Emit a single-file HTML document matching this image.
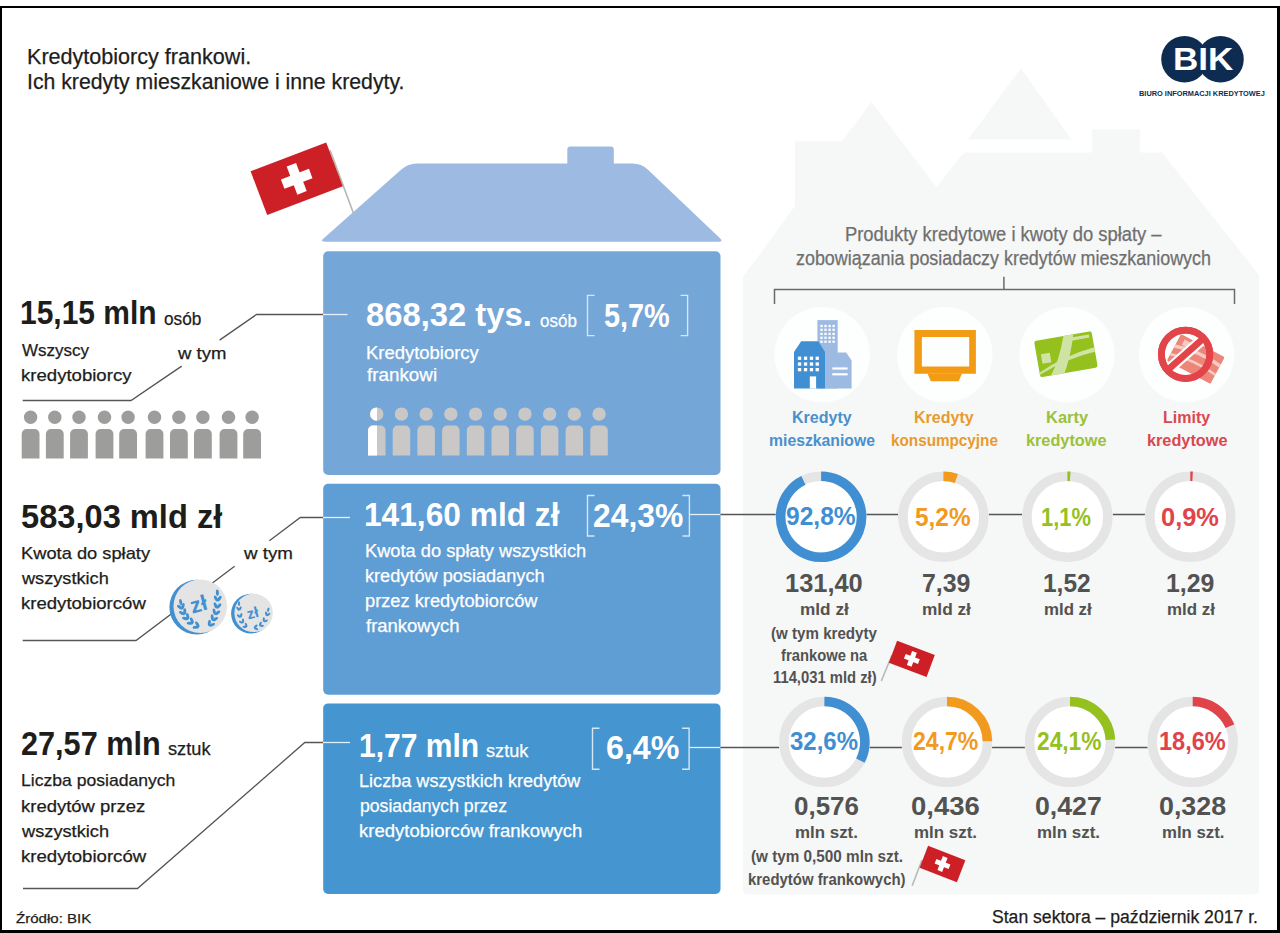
<!DOCTYPE html>
<html><head><meta charset="utf-8"><style>
html,body{margin:0;padding:0;background:#fff;}
body{width:1280px;height:933px;position:relative;overflow:hidden;font-family:"Liberation Sans",sans-serif;}
.t{position:absolute;white-space:nowrap;transform-origin:0 0;}
#frame{position:absolute;left:0;top:6px;width:1280px;height:927px;box-sizing:border-box;border-top:2px solid #000;border-left:2.3px solid #000;border-right:3px solid #000;border-bottom:3px solid #000;}
svg{position:absolute;left:0;top:0;}
</style></head><body>
<svg width="1280" height="933" viewBox="0 0 1280 933">
<path fill="#f6f7f7" d="M743,889.5 L743,277 L795,206 L795,141.3 L842,141.3 L871.5,102 L936.5,187 L964,152.6 L1092,152.6 L1092,129.5 L1140,129.5 L1140,152.6 L1162,152.6 L1259,275 L1259,889.5 Q1259,894.5 1254,894.5 L748,894.5 Q743,894.5 743,889.5 Z"/>
<polygon fill="#f6f7f7" points="968,139.4 1020.8,68.3 1071.6,139.4"/>
<path fill="#9dbbe2" d="M323.5,238.4 L401.3,169.5 Q408,163.5 417,163.5 L567.3,163.5 L567.3,149.6 Q567.3,146.6 570.3,146.6 L610.8,146.6 Q613.8,146.6 613.8,149.6 L613.8,163.5 L632.5,163.5 Q641.5,163.5 648,169.7 L720,238.25 Q723.6,241.7 718.6,241.7 L324.8,241.7 Q319.8,241.7 323.5,238.4 Z"/>
<rect x="323.2" y="251.2" width="397.3" height="223.8" rx="5" fill="#74a6d8"/>
<rect x="323.2" y="483.8" width="397.3" height="210.9" rx="5" fill="#5f9dd5"/>
<rect x="323.2" y="703.4" width="397.3" height="190.6" rx="5" fill="#4595d0"/>
<polyline fill="none" stroke="#555555" stroke-width="1.3" points="22.7,400.5 131,400.5 181.7,366.1"/>
<polyline fill="none" stroke="#555555" stroke-width="1.3" points="219.6,340.1 256.5,314.5 323.2,314.5"/>
<polyline fill="none" stroke="#555555" stroke-width="1.3" points="22.7,640.5 136,640.5 234.6,566.2"/>
<polyline fill="none" stroke="#555555" stroke-width="1.3" points="269.4,540.7 300.3,517.5 323.2,517.5"/>
<polyline fill="none" stroke="#555555" stroke-width="1.3" points="23,888.5 137.5,888.5 304.8,742.5 323.2,742.5"/>
<line x1="323" y1="314.5" x2="347.5" y2="314.5" stroke="#e6f0f9" stroke-width="1.3"/>
<line x1="323" y1="517.5" x2="350" y2="517.5" stroke="#e6f0f9" stroke-width="1.3"/>
<line x1="323" y1="742.5" x2="350" y2="742.5" stroke="#e6f0f9" stroke-width="1.3"/>
<line x1="689.4" y1="514.5" x2="720.5" y2="514.5" stroke="#e6f0f9" stroke-width="1.3"/>
<line x1="720.5" y1="514.5" x2="1190" y2="514.5" stroke="#555555" stroke-width="1.3"/>
<line x1="689.4" y1="747.5" x2="720.5" y2="747.5" stroke="#e6f0f9" stroke-width="1.3"/>
<line x1="720.5" y1="747.5" x2="1193" y2="747.5" stroke="#555555" stroke-width="1.3"/>
<polyline fill="none" stroke="#d6e6f5" stroke-width="1.4" points="594.5,295.4 587.5,295.4 587.5,335.6 594.5,335.6"/>
<polyline fill="none" stroke="#d6e6f5" stroke-width="1.4" points="680.6,295.4 687.6,295.4 687.6,335.6 680.6,335.6"/>
<polyline fill="none" stroke="#d6e6f5" stroke-width="1.4" points="594.5,495.5 587.5,495.5 587.5,536 594.5,536"/>
<polyline fill="none" stroke="#d6e6f5" stroke-width="1.4" points="682.4,495.5 689.4,495.5 689.4,536 682.4,536"/>
<polyline fill="none" stroke="#d6e6f5" stroke-width="1.4" points="599.5,728.2 592.5,728.2 592.5,769.2 599.5,769.2"/>
<polyline fill="none" stroke="#d6e6f5" stroke-width="1.4" points="682.1,728.2 689.1,728.2 689.1,769.2 682.1,769.2"/>
<polyline fill="none" stroke="#6a6a6a" stroke-width="1.5" points="774.5,304 774.5,289.5 1234.5,289.5 1234.5,304"/>
<line x1="1003.9" y1="276.8" x2="1003.9" y2="289.5" stroke="#6a6a6a" stroke-width="1.5"/>
<circle cx="30.6" cy="417.3" r="6.7" fill="#9d9d9c"/>
<path d="M21.7,458.6 V434 a5,5 0 0 1 5,-5 h7.8 a5,5 0 0 1 5,5 V458.6 z" fill="#9d9d9c"/>
<circle cx="54.8" cy="417.3" r="6.7" fill="#9d9d9c"/>
<path d="M45.9,458.6 V434 a5,5 0 0 1 5,-5 h7.8 a5,5 0 0 1 5,5 V458.6 z" fill="#9d9d9c"/>
<circle cx="79.0" cy="417.3" r="6.7" fill="#9d9d9c"/>
<path d="M70.1,458.6 V434 a5,5 0 0 1 5,-5 h7.8 a5,5 0 0 1 5,5 V458.6 z" fill="#9d9d9c"/>
<circle cx="104.5" cy="417.3" r="6.7" fill="#9d9d9c"/>
<path d="M95.6,458.6 V434 a5,5 0 0 1 5,-5 h7.8 a5,5 0 0 1 5,5 V458.6 z" fill="#9d9d9c"/>
<circle cx="128.1" cy="417.3" r="6.7" fill="#9d9d9c"/>
<path d="M119.2,458.6 V434 a5,5 0 0 1 5,-5 h7.8 a5,5 0 0 1 5,5 V458.6 z" fill="#9d9d9c"/>
<circle cx="154.5" cy="417.3" r="6.7" fill="#9d9d9c"/>
<path d="M145.6,458.6 V434 a5,5 0 0 1 5,-5 h7.8 a5,5 0 0 1 5,5 V458.6 z" fill="#9d9d9c"/>
<circle cx="178.9" cy="417.3" r="6.7" fill="#9d9d9c"/>
<path d="M170,458.6 V434 a5,5 0 0 1 5,-5 h7.8 a5,5 0 0 1 5,5 V458.6 z" fill="#9d9d9c"/>
<circle cx="202.9" cy="417.3" r="6.7" fill="#9d9d9c"/>
<path d="M194,458.6 V434 a5,5 0 0 1 5,-5 h7.8 a5,5 0 0 1 5,5 V458.6 z" fill="#9d9d9c"/>
<circle cx="228.5" cy="417.3" r="6.7" fill="#9d9d9c"/>
<path d="M219.6,458.6 V434 a5,5 0 0 1 5,-5 h7.8 a5,5 0 0 1 5,5 V458.6 z" fill="#9d9d9c"/>
<circle cx="252.1" cy="417.3" r="6.7" fill="#9d9d9c"/>
<path d="M243.2,458.6 V434 a5,5 0 0 1 5,-5 h7.8 a5,5 0 0 1 5,5 V458.6 z" fill="#9d9d9c"/>
<circle cx="376.75" cy="414.1" r="6.7" fill="#c9c8c6"/>
<path d="M368.0,455.5 V430.5 a5,5 0 0 1 5,-5 h7.5 a5,5 0 0 1 5,5 V455.5 z" fill="#c9c8c6"/>
<circle cx="401.45" cy="414.1" r="6.7" fill="#c9c8c6"/>
<path d="M392.7,455.5 V430.5 a5,5 0 0 1 5,-5 h7.5 a5,5 0 0 1 5,5 V455.5 z" fill="#c9c8c6"/>
<circle cx="426.15" cy="414.1" r="6.7" fill="#c9c8c6"/>
<path d="M417.4,455.5 V430.5 a5,5 0 0 1 5,-5 h7.5 a5,5 0 0 1 5,5 V455.5 z" fill="#c9c8c6"/>
<circle cx="450.85" cy="414.1" r="6.7" fill="#c9c8c6"/>
<path d="M442.1,455.5 V430.5 a5,5 0 0 1 5,-5 h7.5 a5,5 0 0 1 5,5 V455.5 z" fill="#c9c8c6"/>
<circle cx="475.55" cy="414.1" r="6.7" fill="#c9c8c6"/>
<path d="M466.8,455.5 V430.5 a5,5 0 0 1 5,-5 h7.5 a5,5 0 0 1 5,5 V455.5 z" fill="#c9c8c6"/>
<circle cx="500.25" cy="414.1" r="6.7" fill="#c9c8c6"/>
<path d="M491.5,455.5 V430.5 a5,5 0 0 1 5,-5 h7.5 a5,5 0 0 1 5,5 V455.5 z" fill="#c9c8c6"/>
<circle cx="524.95" cy="414.1" r="6.7" fill="#c9c8c6"/>
<path d="M516.2,455.5 V430.5 a5,5 0 0 1 5,-5 h7.5 a5,5 0 0 1 5,5 V455.5 z" fill="#c9c8c6"/>
<circle cx="549.65" cy="414.1" r="6.7" fill="#c9c8c6"/>
<path d="M540.9,455.5 V430.5 a5,5 0 0 1 5,-5 h7.5 a5,5 0 0 1 5,5 V455.5 z" fill="#c9c8c6"/>
<circle cx="574.35" cy="414.1" r="6.7" fill="#c9c8c6"/>
<path d="M565.6,455.5 V430.5 a5,5 0 0 1 5,-5 h7.5 a5,5 0 0 1 5,5 V455.5 z" fill="#c9c8c6"/>
<circle cx="599.05" cy="414.1" r="6.7" fill="#c9c8c6"/>
<path d="M590.3,455.5 V430.5 a5,5 0 0 1 5,-5 h7.5 a5,5 0 0 1 5,5 V455.5 z" fill="#c9c8c6"/>
<clipPath id="hw"><rect x="360" y="400" width="16.9" height="60"/></clipPath>
<g clip-path="url(#hw)"><circle cx="376.75" cy="414.1" r="6.7" fill="#fff"/><path d="M368,455.5 V430.5 a5,5 0 0 1 5,-5 h7.5 a5,5 0 0 1 5,5 V455.5 z" fill="#fff"/></g>
<circle cx="822.2" cy="354.8" r="47.7" fill="#fdfefe"/>
<circle cx="944.8" cy="354.8" r="47.7" fill="#fdfefe"/>
<circle cx="1066.9" cy="354.8" r="47.7" fill="#fdfefe"/>
<circle cx="1186.5" cy="354.8" r="47.7" fill="#fdfefe"/>
<circle cx="821.1" cy="516.8" r="45.5" fill="#fff"/><circle cx="821.1" cy="516.8" r="40.5" fill="none" stroke="#e5e5e5" stroke-width="9.6"/><path d="M821.10,476.30 A40.5,40.5 0 1 1 803.40,480.37" fill="none" stroke="#3f8fd2" stroke-width="9.6"/>
<circle cx="943.4" cy="516.8" r="45.5" fill="#fff"/><circle cx="943.4" cy="516.8" r="40.5" fill="none" stroke="#e5e5e5" stroke-width="9.6"/><path d="M943.40,476.30 A40.5,40.5 0 0 1 956.40,478.44" fill="none" stroke="#f29a1e" stroke-width="9.6"/>
<circle cx="1067.4" cy="516.8" r="45.5" fill="#fff"/><circle cx="1067.4" cy="516.8" r="40.5" fill="none" stroke="#e5e5e5" stroke-width="9.6"/><path d="M1067.40,476.30 A40.5,40.5 0 0 1 1070.20,476.40" fill="none" stroke="#95c11f" stroke-width="9.6"/>
<circle cx="1190.3" cy="516.8" r="45.5" fill="#fff"/><circle cx="1190.3" cy="516.8" r="40.5" fill="none" stroke="#e5e5e5" stroke-width="9.6"/><path d="M1190.30,476.30 A40.5,40.5 0 0 1 1192.59,476.36" fill="none" stroke="#e0434a" stroke-width="9.6"/>
<circle cx="824.4" cy="742" r="45.5" fill="#fff"/><circle cx="824.4" cy="742" r="40.5" fill="none" stroke="#e5e5e5" stroke-width="9.6"/><path d="M824.40,701.50 A40.5,40.5 0 0 1 860.37,760.61" fill="none" stroke="#3f8fd2" stroke-width="9.6"/>
<circle cx="947" cy="742" r="45.5" fill="#fff"/><circle cx="947" cy="742" r="40.5" fill="none" stroke="#e5e5e5" stroke-width="9.6"/><path d="M947.00,701.50 A40.5,40.5 0 0 1 987.49,741.24" fill="none" stroke="#f29a1e" stroke-width="9.6"/>
<circle cx="1070" cy="742" r="45.5" fill="#fff"/><circle cx="1070" cy="742" r="40.5" fill="none" stroke="#e5e5e5" stroke-width="9.6"/><path d="M1070.00,701.50 A40.5,40.5 0 0 1 1110.44,739.71" fill="none" stroke="#95c11f" stroke-width="9.6"/>
<circle cx="1192.7" cy="742" r="45.5" fill="#fff"/><circle cx="1192.7" cy="742" r="40.5" fill="none" stroke="#e5e5e5" stroke-width="9.6"/><path d="M1192.70,701.50 A40.5,40.5 0 0 1 1229.97,726.15" fill="none" stroke="#e0434a" stroke-width="9.6"/>
<line x1="330" y1="150" x2="353.6" y2="213.6" stroke="#b8b8b8" stroke-width="1.6"/><g transform="translate(296.7,178.85) rotate(-20.8)"><rect x="-40.45" y="-23.4" width="80.9" height="46.8" fill="#cc1f26"/><rect x="-15.0" y="-5.0" width="30" height="10" fill="#fff"/><rect x="-5.0" y="-15.0" width="10" height="30" fill="#fff"/></g>
<line x1="892" y1="655" x2="881.3" y2="681" stroke="#b8b8b8" stroke-width="1.6"/><g transform="translate(911.85,658.9) rotate(20.6)"><rect x="-20.15" y="-11.75" width="40.3" height="23.5" fill="#cc1f26"/><rect x="-7.5" y="-2.5" width="15" height="5" fill="#fff"/><rect x="-2.5" y="-7.5" width="5" height="15" fill="#fff"/></g>
<line x1="922" y1="860" x2="912.2" y2="885.8" stroke="#b8b8b8" stroke-width="1.6"/><g transform="translate(942.5,864) rotate(21.2)"><rect x="-20.0" y="-11.7" width="40" height="23.4" fill="#cc1f26"/><rect x="-7.5" y="-2.5" width="15" height="5" fill="#fff"/><rect x="-2.5" y="-7.5" width="5" height="15" fill="#fff"/></g>
<circle cx="196.8" cy="607.2" r="27.4" fill="#4390d0"/><circle cx="200.3" cy="606.2" r="26.8" fill="#e4e4e4"/>
<circle cx="251" cy="613.6" r="19.9" fill="#4390d0"/><circle cx="253.6" cy="612.9" r="19.2" fill="#e4e4e4"/>
<circle cx="1184.5" cy="59.25" r="23.25" fill="#0e2c52"/><circle cx="1220.5" cy="59.25" r="23.25" fill="#0e2c52"/>
<rect x="817.4" y="320.1" width="20.3" height="68.4" fill="#9dbbe2"/>
<rect x="820.35" y="324.85" width="2.3" height="2.3" fill="#fff"/>
<rect x="820.35" y="328.65000000000003" width="2.3" height="2.3" fill="#fff"/>
<rect x="820.35" y="332.75" width="2.3" height="2.3" fill="#fff"/>
<rect x="820.35" y="336.65000000000003" width="2.3" height="2.3" fill="#fff"/>
<rect x="820.35" y="340.55" width="2.3" height="2.3" fill="#fff"/>
<rect x="824.35" y="324.85" width="2.3" height="2.3" fill="#fff"/>
<rect x="824.35" y="328.65000000000003" width="2.3" height="2.3" fill="#fff"/>
<rect x="824.35" y="332.75" width="2.3" height="2.3" fill="#fff"/>
<rect x="824.35" y="336.65000000000003" width="2.3" height="2.3" fill="#fff"/>
<rect x="824.35" y="340.55" width="2.3" height="2.3" fill="#fff"/>
<rect x="828.45" y="324.85" width="2.3" height="2.3" fill="#fff"/>
<rect x="828.45" y="328.65000000000003" width="2.3" height="2.3" fill="#fff"/>
<rect x="828.45" y="332.75" width="2.3" height="2.3" fill="#fff"/>
<rect x="828.45" y="336.65000000000003" width="2.3" height="2.3" fill="#fff"/>
<rect x="828.45" y="340.55" width="2.3" height="2.3" fill="#fff"/>
<rect x="832.45" y="324.85" width="2.3" height="2.3" fill="#fff"/>
<rect x="832.45" y="328.65000000000003" width="2.3" height="2.3" fill="#fff"/>
<rect x="832.45" y="332.75" width="2.3" height="2.3" fill="#fff"/>
<rect x="832.45" y="336.65000000000003" width="2.3" height="2.3" fill="#fff"/>
<rect x="832.45" y="340.55" width="2.3" height="2.3" fill="#fff"/>
<polygon points="825,352.5 846.2,352.5 851.6,360.6 851.6,388.5 825,388.5" fill="#9dbbe2"/>
<rect x="832.3" y="367.4" width="15.3" height="2.2" fill="#fff"/><rect x="832.3" y="373.2" width="15.3" height="2.2" fill="#fff"/>
<polygon points="794,352 801.2,341.3 818.3,341.3 825,352 825,388.5 794,388.5" fill="#3f8fd2"/>
<rect x="797.9" y="356.6" width="3.3" height="3.3" fill="#fff"/>
<rect x="797.9" y="362.4" width="3.3" height="3.3" fill="#fff"/>
<rect x="797.9" y="368" width="3.3" height="3.3" fill="#fff"/>
<rect x="803.9" y="356.6" width="3.3" height="3.3" fill="#fff"/>
<rect x="803.9" y="362.4" width="3.3" height="3.3" fill="#fff"/>
<rect x="803.9" y="368" width="3.3" height="3.3" fill="#fff"/>
<rect x="809.8" y="356.6" width="3.3" height="3.3" fill="#fff"/>
<rect x="809.8" y="362.4" width="3.3" height="3.3" fill="#fff"/>
<rect x="809.8" y="368" width="3.3" height="3.3" fill="#fff"/>
<rect x="815.6" y="356.6" width="3.3" height="3.3" fill="#fff"/>
<rect x="815.6" y="362.4" width="3.3" height="3.3" fill="#fff"/>
<rect x="815.6" y="368" width="3.3" height="3.3" fill="#fff"/>
<rect x="809.8" y="376.4" width="6.3" height="12.1" fill="#fff"/>
<path fill-rule="evenodd" fill="#f29c16" d="M914.4,330.1 H975.9 V373.7 H914.4 Z M921.9,336.9 V366.5 H969.2 V336.9 Z"/>
<polygon fill="#f29c16" points="927.5,373.5 962,373.5 958.7,381.2 930.9,381.2"/>
<defs><clipPath id="gcard"><rect x="-29.15" y="-18.4" width="58.3" height="36.8" rx="2.2"/></clipPath></defs>
<g transform="translate(1065.9,354.2) rotate(-10)"><rect x="-29.15" y="-18.4" width="58.3" height="36.8" rx="2.2" fill="#95c11f"/><g clip-path="url(#gcard)"><path d="M-19,19 Q-8,6 1,-19 L11,-19 Q4,4 -5,19 Z" fill="#cfe3a5"/><path d="M-30,14 Q-2,1 30,-2 L30,2.5 Q0,4 -30,16 Z" fill="#cfe3a5"/><rect x="8" y="-15.5" width="18" height="3.2" fill="#cfe3a5"/><rect x="-24.7" y="-4.2" width="9" height="9.5" fill="#cfe3a5"/></g></g>
<defs><clipPath id="cardclip"><rect x="-24.7" y="-15.15" width="49.4" height="30.3" rx="1.5"/></clipPath></defs>
<g transform="translate(1195.8,358.9) rotate(28)"><rect x="-24.7" y="-15.15" width="49.4" height="30.3" rx="1.5" fill="#ec8679"/><g clip-path="url(#cardclip)"><path d="M-26,-1 Q-2,-9 26,-5" fill="none" stroke="#f7cbc2" stroke-width="3.6"/><path d="M-26,8 Q0,1 26,5" fill="none" stroke="#f7cbc2" stroke-width="2.6"/><rect x="-19" y="-12" width="7" height="6" fill="#f7cbc2"/></g></g>
<circle cx="1185.6" cy="354.3" r="24.2" fill="none" stroke="#e2444a" stroke-width="6.8"/>
<line x1="1203" y1="338.8" x2="1168.5" y2="369.3" stroke="#fdfefe" stroke-width="11"/>
<circle cx="1185.6" cy="354.3" r="24.2" fill="none" stroke="#e2444a" stroke-width="6.8"/>
<line x1="1203" y1="338.8" x2="1168.5" y2="369.3" stroke="#e2444a" stroke-width="6.8"/>
<text x="0" y="0" transform="translate(200.5,611.5) rotate(-15)" text-anchor="middle" font-family="Liberation Sans" font-weight="bold" font-size="22" fill="#4390d0">zł</text>
<ellipse cx="195.82" cy="627.32" rx="3.20" ry="1.50" transform="rotate(-185.7 195.82 627.32)" fill="#4390d0"/><ellipse cx="197.32" cy="624.28" rx="3.20" ry="1.50" transform="rotate(-121.7 197.32 624.28)" fill="#4390d0"/><ellipse cx="189.90" cy="623.29" rx="3.20" ry="1.50" transform="rotate(-176.4 189.90 623.29)" fill="#4390d0"/><ellipse cx="191.87" cy="620.53" rx="3.20" ry="1.50" transform="rotate(-112.4 191.87 620.53)" fill="#4390d0"/><ellipse cx="185.23" cy="618.55" rx="3.20" ry="1.50" transform="rotate(-165.3 185.23 618.55)" fill="#4390d0"/><ellipse cx="187.70" cy="616.22" rx="3.20" ry="1.50" transform="rotate(-101.3 187.70 616.22)" fill="#4390d0"/><ellipse cx="181.86" cy="613.16" rx="3.20" ry="1.50" transform="rotate(-153.1 181.86 613.16)" fill="#4390d0"/><ellipse cx="184.76" cy="611.41" rx="3.20" ry="1.50" transform="rotate(-89.1 184.76 611.41)" fill="#4390d0"/><ellipse cx="179.76" cy="607.20" rx="3.20" ry="1.50" transform="rotate(-140.5 179.76 607.20)" fill="#4390d0"/><ellipse cx="182.98" cy="606.12" rx="3.20" ry="1.50" transform="rotate(-76.5 182.98 606.12)" fill="#4390d0"/><ellipse cx="180.72" cy="602.10" rx="3.20" ry="1.50" transform="rotate(-98.2 180.72 602.10)" fill="#4390d0"/>
<ellipse cx="209.34" cy="622.82" rx="3.20" ry="1.50" transform="rotate(-83.9 209.34 622.82)" fill="#4390d0"/><ellipse cx="212.01" cy="624.91" rx="3.20" ry="1.50" transform="rotate(-19.9 212.01 624.91)" fill="#4390d0"/><ellipse cx="212.25" cy="617.54" rx="3.20" ry="1.50" transform="rotate(-93.6 212.25 617.54)" fill="#4390d0"/><ellipse cx="215.24" cy="619.15" rx="3.20" ry="1.50" transform="rotate(-29.6 215.24 619.15)" fill="#4390d0"/><ellipse cx="214.30" cy="611.73" rx="3.20" ry="1.50" transform="rotate(-103.0 214.30 611.73)" fill="#4390d0"/><ellipse cx="217.51" cy="612.84" rx="3.20" ry="1.50" transform="rotate(-39.0 217.51 612.84)" fill="#4390d0"/><ellipse cx="215.54" cy="605.38" rx="3.20" ry="1.50" transform="rotate(-111.6 215.54 605.38)" fill="#4390d0"/><ellipse cx="218.87" cy="605.99" rx="3.20" ry="1.50" transform="rotate(-47.6 218.87 605.99)" fill="#4390d0"/><ellipse cx="215.96" cy="598.45" rx="3.20" ry="1.50" transform="rotate(-119.2 215.96 598.45)" fill="#4390d0"/><ellipse cx="219.35" cy="598.62" rx="3.20" ry="1.50" transform="rotate(-55.2 219.35 598.62)" fill="#4390d0"/><ellipse cx="217.40" cy="592.58" rx="3.20" ry="1.50" transform="rotate(-93.0 217.40 592.58)" fill="#4390d0"/>
<text x="0" y="0" transform="translate(253.8,618) rotate(-15)" text-anchor="middle" font-family="Liberation Sans" font-weight="bold" font-size="15" fill="#4390d0">zł</text>
<ellipse cx="244.70" cy="626.87" rx="2.30" ry="1.10" transform="rotate(-176.8 244.70 626.87)" fill="#4390d0"/><ellipse cx="246.11" cy="624.88" rx="2.30" ry="1.10" transform="rotate(-112.8 246.11 624.88)" fill="#4390d0"/><ellipse cx="241.06" cy="622.15" rx="2.30" ry="1.10" transform="rotate(-156.3 241.06 622.15)" fill="#4390d0"/><ellipse cx="243.07" cy="620.77" rx="2.30" ry="1.10" transform="rotate(-92.3 243.07 620.77)" fill="#4390d0"/><ellipse cx="238.82" cy="616.08" rx="2.30" ry="1.10" transform="rotate(-139.5 238.82 616.08)" fill="#4390d0"/><ellipse cx="241.15" cy="615.35" rx="2.30" ry="1.10" transform="rotate(-75.5 241.15 615.35)" fill="#4390d0"/><ellipse cx="237.82" cy="608.68" rx="2.30" ry="1.10" transform="rotate(-127.3 237.82 608.68)" fill="#4390d0"/><ellipse cx="240.25" cy="608.45" rx="2.30" ry="1.10" transform="rotate(-63.3 240.25 608.45)" fill="#4390d0"/><ellipse cx="239.01" cy="603.62" rx="2.30" ry="1.10" transform="rotate(-89.5 239.01 603.62)" fill="#4390d0"/>
<ellipse cx="255.67" cy="626.41" rx="2.30" ry="1.10" transform="rotate(-43.6 255.67 626.41)" fill="#4390d0"/><ellipse cx="256.16" cy="628.80" rx="2.30" ry="1.10" transform="rotate(20.4 256.16 628.80)" fill="#4390d0"/><ellipse cx="260.37" cy="623.75" rx="2.30" ry="1.10" transform="rotate(-64.8 260.37 623.75)" fill="#4390d0"/><ellipse cx="261.70" cy="625.80" rx="2.30" ry="1.10" transform="rotate(-0.8 261.70 625.80)" fill="#4390d0"/><ellipse cx="263.78" cy="619.51" rx="2.30" ry="1.10" transform="rotate(-85.9 263.78 619.51)" fill="#4390d0"/><ellipse cx="265.75" cy="620.95" rx="2.30" ry="1.10" transform="rotate(-21.9 265.75 620.95)" fill="#4390d0"/><ellipse cx="266.16" cy="613.66" rx="2.30" ry="1.10" transform="rotate(-102.3 266.16 613.66)" fill="#4390d0"/><ellipse cx="268.45" cy="614.48" rx="2.30" ry="1.10" transform="rotate(-38.3 268.45 614.48)" fill="#4390d0"/><ellipse cx="268.28" cy="609.65" rx="2.30" ry="1.10" transform="rotate(-78.3 268.28 609.65)" fill="#4390d0"/>
</svg>
<div class="t" style="left:27.14px;top:46.38px;font-size:22px;line-height:22px;color:#1d1d1b;-webkit-text-stroke:0.25px #1d1d1b;transform:scaleX(0.9804)">Kredytobiorcy frankowi.</div>
<div class="t" style="left:27.00px;top:71.38px;font-size:22px;line-height:22px;color:#1d1d1b;-webkit-text-stroke:0.25px #1d1d1b;transform:scaleX(0.9655)">Ich kredyty mieszkaniowe i inne kredyty.</div>
<div class="t" style="left:19.94px;top:297.49px;font-size:32.5px;line-height:32.5px;color:#1d1d1b;font-weight:bold;transform:scaleX(0.9215)">15,15 mln</div>
<div class="t" style="left:163.58px;top:308.92px;font-size:19px;line-height:19px;color:#1d1d1b;-webkit-text-stroke:0.25px #1d1d1b;transform:scaleX(0.9073)">osób</div>
<div class="t" style="left:21.80px;top:342.11px;font-size:17px;line-height:17px;color:#1d1d1b;-webkit-text-stroke:0.25px #1d1d1b;transform:scaleX(1.0001)">Wszyscy</div>
<div class="t" style="left:20.74px;top:367.21px;font-size:17px;line-height:17px;color:#1d1d1b;-webkit-text-stroke:0.25px #1d1d1b;transform:scaleX(1.0926)">kredytobiorcy</div>
<div class="t" style="left:178.18px;top:344.81px;font-size:17px;line-height:17px;color:#1d1d1b;-webkit-text-stroke:0.25px #1d1d1b;transform:scaleX(1.0900)">w tym</div>
<div class="t" style="left:20.61px;top:499.75px;font-size:33.5px;line-height:33.5px;color:#1d1d1b;font-weight:bold;transform:scaleX(0.9737)">583,03 mld zł</div>
<div class="t" style="left:20.77px;top:544.71px;font-size:17px;line-height:17px;color:#1d1d1b;-webkit-text-stroke:0.25px #1d1d1b;transform:scaleX(1.0752)">Kwota do spłaty</div>
<div class="t" style="left:21.98px;top:569.61px;font-size:17px;line-height:17px;color:#1d1d1b;-webkit-text-stroke:0.25px #1d1d1b;transform:scaleX(1.0679)">wszystkich</div>
<div class="t" style="left:20.84px;top:594.51px;font-size:17px;line-height:17px;color:#1d1d1b;-webkit-text-stroke:0.25px #1d1d1b;transform:scaleX(1.0916)">kredytobiorców</div>
<div class="t" style="left:243.99px;top:544.71px;font-size:17px;line-height:17px;color:#1d1d1b;-webkit-text-stroke:0.25px #1d1d1b;transform:scaleX(1.1037)">w tym</div>
<div class="t" style="left:20.83px;top:727.27px;font-size:33px;line-height:33px;color:#1d1d1b;font-weight:bold;transform:scaleX(0.9287)">27,57 mln</div>
<div class="t" style="left:167.87px;top:739.12px;font-size:19px;line-height:19px;color:#1d1d1b;-webkit-text-stroke:0.25px #1d1d1b;transform:scaleX(0.9578)">sztuk</div>
<div class="t" style="left:20.71px;top:772.31px;font-size:17px;line-height:17px;color:#1d1d1b;-webkit-text-stroke:0.25px #1d1d1b;transform:scaleX(1.0339)">Liczba posiadanych</div>
<div class="t" style="left:20.74px;top:797.61px;font-size:17px;line-height:17px;color:#1d1d1b;-webkit-text-stroke:0.25px #1d1d1b;transform:scaleX(1.0860)">kredytów przez</div>
<div class="t" style="left:21.88px;top:823.01px;font-size:17px;line-height:17px;color:#1d1d1b;-webkit-text-stroke:0.25px #1d1d1b;transform:scaleX(1.0717)">wszystkich</div>
<div class="t" style="left:20.73px;top:848.31px;font-size:17px;line-height:17px;color:#1d1d1b;-webkit-text-stroke:0.25px #1d1d1b;transform:scaleX(1.0951)">kredytobiorców</div>
<div class="t" style="left:16.00px;top:911.57px;font-size:13.5px;line-height:13.5px;color:#1d1d1b;-webkit-text-stroke:0.25px #1d1d1b;transform:scaleX(1.1157)">Źródło: BIK</div>
<div class="t" style="left:366.38px;top:298.92px;font-size:32.7px;line-height:32.7px;color:#ffffff;font-weight:bold;transform:scaleX(1.0025)">868,32 tys.</div>
<div class="t" style="left:539.79px;top:310.52px;font-size:19px;line-height:19px;color:#ffffff;-webkit-text-stroke:0.25px #ffffff;transform:scaleX(0.8949)">osób</div>
<div class="t" style="left:604.13px;top:299.72px;font-size:32.7px;line-height:32.7px;color:#ffffff;font-weight:bold;transform:scaleX(0.8829)">5,7%</div>
<div class="t" style="left:366.26px;top:344.59px;font-size:17.5px;line-height:17.5px;color:#ffffff;-webkit-text-stroke:0.25px #ffffff;transform:scaleX(1.0545)">Kredytobiorcy</div>
<div class="t" style="left:367.40px;top:367.29px;font-size:17.5px;line-height:17.5px;color:#ffffff;-webkit-text-stroke:0.25px #ffffff;transform:scaleX(1.0752)">frankowi</div>
<div class="t" style="left:364.07px;top:497.65px;font-size:33.5px;line-height:33.5px;color:#ffffff;font-weight:bold;transform:scaleX(0.9459)">141,60 mld zł</div>
<div class="t" style="left:592.61px;top:498.85px;font-size:33.5px;line-height:33.5px;color:#ffffff;font-weight:bold;transform:scaleX(0.9505)">24,3%</div>
<div class="t" style="left:364.87px;top:543.49px;font-size:17.5px;line-height:17.5px;color:#ffffff;-webkit-text-stroke:0.25px #ffffff;transform:scaleX(1.0433)">Kwota do spłaty wszystkich</div>
<div class="t" style="left:364.98px;top:568.09px;font-size:17.5px;line-height:17.5px;color:#ffffff;-webkit-text-stroke:0.25px #ffffff;transform:scaleX(1.0369)">kredytów posiadanych</div>
<div class="t" style="left:364.98px;top:593.19px;font-size:17.5px;line-height:17.5px;color:#ffffff;-webkit-text-stroke:0.25px #ffffff;transform:scaleX(1.0431)">przez kredytobiorców</div>
<div class="t" style="left:366.00px;top:617.89px;font-size:17.5px;line-height:17.5px;color:#ffffff;-webkit-text-stroke:0.25px #ffffff;transform:scaleX(1.0554)">frankowych</div>
<div class="t" style="left:358.66px;top:728.97px;font-size:33px;line-height:33px;color:#ffffff;font-weight:bold;transform:scaleX(0.9101)">1,77 mln</div>
<div class="t" style="left:486.07px;top:740.82px;font-size:19px;line-height:19px;color:#ffffff;-webkit-text-stroke:0.25px #ffffff;transform:scaleX(0.9555)">sztuk</div>
<div class="t" style="left:605.56px;top:731.07px;font-size:33px;line-height:33px;color:#ffffff;font-weight:bold;transform:scaleX(0.9761)">6,4%</div>
<div class="t" style="left:359.38px;top:772.99px;font-size:17.5px;line-height:17.5px;color:#ffffff;-webkit-text-stroke:0.25px #ffffff;transform:scaleX(1.0347)">Liczba wszystkich kredytów</div>
<div class="t" style="left:359.51px;top:797.69px;font-size:17.5px;line-height:17.5px;color:#ffffff;-webkit-text-stroke:0.25px #ffffff;transform:scaleX(1.0070)">posiadanych przez</div>
<div class="t" style="left:359.46px;top:823.29px;font-size:17.5px;line-height:17.5px;color:#ffffff;-webkit-text-stroke:0.25px #ffffff;transform:scaleX(1.0583)">kredytobiorców frankowych</div>
<div class="t" style="left:844.85px;top:224.56px;font-size:19.3px;line-height:19.3px;color:#6f6f6e;-webkit-text-stroke:0.25px #6f6f6e;transform:scaleX(0.9528)">Produkty kredytowe i kwoty do spłaty –</div>
<div class="t" style="left:796.29px;top:248.96px;font-size:19.3px;line-height:19.3px;color:#6f6f6e;-webkit-text-stroke:0.25px #6f6f6e;transform:scaleX(0.9285)">zobowiązania posiadaczy kredytów mieszkaniowych</div>
<div class="t" style="left:792.32px;top:408.61px;font-size:17px;line-height:17px;color:#4a90cc;font-weight:bold;transform:scaleX(0.9420)">Kredyty</div>
<div class="t" style="left:768.88px;top:431.51px;font-size:17px;line-height:17px;color:#4a90cc;font-weight:bold;transform:scaleX(0.9272)">mieszkaniowe</div>
<div class="t" style="left:914.42px;top:408.61px;font-size:17px;line-height:17px;color:#e99a2c;font-weight:bold;transform:scaleX(0.9420)">Kredyty</div>
<div class="t" style="left:890.89px;top:431.51px;font-size:17px;line-height:17px;color:#e99a2c;font-weight:bold;transform:scaleX(0.8982)">konsumpcyjne</div>
<div class="t" style="left:1045.80px;top:408.61px;font-size:17px;line-height:17px;color:#9bc13a;font-weight:bold;transform:scaleX(0.9679)">Karty</div>
<div class="t" style="left:1026.23px;top:431.51px;font-size:17px;line-height:17px;color:#9bc13a;font-weight:bold;transform:scaleX(0.9567)">kredytowe</div>
<div class="t" style="left:1163.47px;top:408.61px;font-size:17px;line-height:17px;color:#d9474f;font-weight:bold;transform:scaleX(0.9409)">Limity</div>
<div class="t" style="left:1146.73px;top:431.51px;font-size:17px;line-height:17px;color:#d9474f;font-weight:bold;transform:scaleX(0.9567)">kredytowe</div>
<div class="t" style="left:785.86px;top:502.99px;font-size:26.6px;line-height:26.6px;color:#3f8fd2;font-weight:bold;transform:scaleX(0.9234)">92,8%</div>
<div class="t" style="left:915.09px;top:504.49px;font-size:26.6px;line-height:26.6px;color:#f29a1e;font-weight:bold;transform:scaleX(0.9180)">5,2%</div>
<div class="t" style="left:1041.41px;top:504.49px;font-size:26.6px;line-height:26.6px;color:#95c11f;font-weight:bold;transform:scaleX(0.8245)">1,1%</div>
<div class="t" style="left:1161.03px;top:504.49px;font-size:26.6px;line-height:26.6px;color:#e0434a;font-weight:bold;transform:scaleX(0.9556)">0,9%</div>
<div class="t" style="left:784.77px;top:570.72px;font-size:25.5px;line-height:25.5px;color:#525251;font-weight:bold;transform:scaleX(0.9963)">131,40</div>
<div class="t" style="left:800.10px;top:601.01px;font-size:17px;line-height:17px;color:#525251;font-weight:bold;transform:scaleX(1.0131)">mld zł</div>
<div class="t" style="left:770.97px;top:625.23px;font-size:16.5px;line-height:16.5px;color:#525251;font-weight:bold;transform:scaleX(0.9172)">(w tym kredyty</div>
<div class="t" style="left:780.69px;top:646.73px;font-size:16.5px;line-height:16.5px;color:#525251;font-weight:bold;transform:scaleX(0.8961)">frankowe na</div>
<div class="t" style="left:772.53px;top:669.23px;font-size:16.5px;line-height:16.5px;color:#525251;font-weight:bold;transform:scaleX(0.8964)">114,031 mld zł)</div>
<div class="t" style="left:922.09px;top:570.72px;font-size:25.5px;line-height:25.5px;color:#525251;font-weight:bold;transform:scaleX(0.9766)">7,39</div>
<div class="t" style="left:922.05px;top:601.01px;font-size:17px;line-height:17px;color:#525251;font-weight:bold;transform:scaleX(1.0153)">mld zł</div>
<div class="t" style="left:1043.48px;top:570.72px;font-size:25.5px;line-height:25.5px;color:#525251;font-weight:bold;transform:scaleX(0.9600)">1,52</div>
<div class="t" style="left:1044.07px;top:601.01px;font-size:17px;line-height:17px;color:#525251;font-weight:bold;transform:scaleX(0.9899)">mld zł</div>
<div class="t" style="left:1166.11px;top:570.72px;font-size:25.5px;line-height:25.5px;color:#525251;font-weight:bold;transform:scaleX(0.9742)">1,29</div>
<div class="t" style="left:1166.77px;top:601.01px;font-size:17px;line-height:17px;color:#525251;font-weight:bold;transform:scaleX(0.9941)">mld zł</div>
<div class="t" style="left:790.12px;top:727.99px;font-size:26.6px;line-height:26.6px;color:#3f8fd2;font-weight:bold;transform:scaleX(0.9019)">32,6%</div>
<div class="t" style="left:913.01px;top:727.99px;font-size:26.6px;line-height:26.6px;color:#f29a1e;font-weight:bold;transform:scaleX(0.8667)">24,7%</div>
<div class="t" style="left:1037.47px;top:727.99px;font-size:26.6px;line-height:26.6px;color:#95c11f;font-weight:bold;transform:scaleX(0.8546)">24,1%</div>
<div class="t" style="left:1159.01px;top:727.99px;font-size:26.6px;line-height:26.6px;color:#e0434a;font-weight:bold;transform:scaleX(0.8861)">18,6%</div>
<div class="t" style="left:793.87px;top:793.92px;font-size:25.5px;line-height:25.5px;color:#525251;font-weight:bold;transform:scaleX(1.0187)">0,576</div>
<div class="t" style="left:794.92px;top:823.81px;font-size:17px;line-height:17px;color:#525251;font-weight:bold;transform:scaleX(0.9943)">mln szt.</div>
<div class="t" style="left:750.51px;top:847.83px;font-size:16.5px;line-height:16.5px;color:#525251;font-weight:bold;transform:scaleX(0.9258)">(w tym 0,500 mln szt.</div>
<div class="t" style="left:747.65px;top:870.53px;font-size:16.5px;line-height:16.5px;color:#525251;font-weight:bold;transform:scaleX(0.9041)">kredytów frankowych)</div>
<div class="t" style="left:911.32px;top:793.92px;font-size:25.5px;line-height:25.5px;color:#525251;font-weight:bold;transform:scaleX(1.0765)">0,436</div>
<div class="t" style="left:914.07px;top:823.81px;font-size:17px;line-height:17px;color:#525251;font-weight:bold;transform:scaleX(0.9959)">mln szt.</div>
<div class="t" style="left:1035.25px;top:793.92px;font-size:25.5px;line-height:25.5px;color:#525251;font-weight:bold;transform:scaleX(1.0456)">0,427</div>
<div class="t" style="left:1037.27px;top:823.81px;font-size:17px;line-height:17px;color:#525251;font-weight:bold;transform:scaleX(0.9959)">mln szt.</div>
<div class="t" style="left:1159.09px;top:793.92px;font-size:25.5px;line-height:25.5px;color:#525251;font-weight:bold;transform:scaleX(1.0506)">0,328</div>
<div class="t" style="left:1161.62px;top:823.81px;font-size:17px;line-height:17px;color:#525251;font-weight:bold;transform:scaleX(0.9877)">mln szt.</div>
<div class="t" style="left:992.07px;top:908.36px;font-size:18px;line-height:18px;color:#1d1d1b;-webkit-text-stroke:0.25px #1d1d1b;transform:scaleX(0.9770)">Stan sektora – październik 2017 r.</div>
<div class="t" style="left:1173.44px;top:43.51px;font-size:31px;line-height:31px;color:#ffffff;font-weight:bold;transform:scaleX(1.1297)">BIK</div>
<div class="t" style="left:1139.47px;top:89.73px;font-size:8px;line-height:8px;color:#0e2c52;font-weight:bold;transform:scaleX(0.9228)">BIURO INFORMACJI KREDYTOWEJ</div>
<div id="frame"></div>
</body></html>
